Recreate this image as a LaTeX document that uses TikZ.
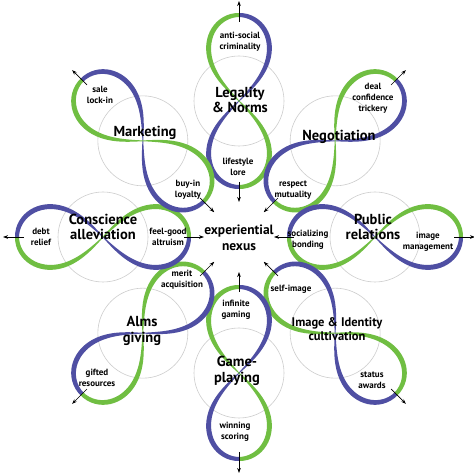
\documentclass[tikz,border=0pt]{standalone}
\usepackage{fontspec}
\setmainfont{PT Sans}
\usetikzlibrary{arrows.meta,calc}
\definecolor{rgreen}{RGB}{112,190,66}
\definecolor{rblue}{RGB}{79,79,163}
\definecolor{ringgrey}{RGB}{205,205,205}
\begin{document}
\begin{tikzpicture}[x=1pt,y=1pt,
  declare function={
    lsq(\ta)=sin(\ta)*sin(\ta);
    lx(\ta)=86*cos(\ta)/(1+lsq(\ta));
    ly(\ta)=86*sin(\ta)*cos(\ta)/(1+lsq(\ta));
    nxr(\ta)=3*lsq(\ta)-1;
    nyr(\ta)=-sin(\ta)*(3-lsq(\ta));
    nn(\ta)=sqrt(nxr(\ta)*nxr(\ta)+nyr(\ta)*nyr(\ta));
    ww(\ta)=0.4+1.6*abs(cos(\ta))+0.8*abs(sin(2*\ta));
    ex(\ta,\sd)=lx(\ta)+\sd*ww(\ta)*nxr(\ta)/nn(\ta);
    ey(\ta,\sd)=ly(\ta)+\sd*ww(\ta)*nyr(\ta)/nn(\ta);
  },
  ring/.style={draw=ringgrey,line width=0.6pt},
  arr/.style={line width=0.7pt,-{Stealth[length=5pt,width=3.6pt]}},
  big/.style={font=\fontsize{14.5}{15.5}\selectfont\bfseries,align=center,inner sep=0pt},
  mid/.style={font=\fontsize{12.5}{14.5}\selectfont\bfseries,align=center,inner sep=0pt},
  small/.style={font=\fontsize{9}{11}\selectfont\bfseries,align=center,inner sep=0pt},
  ctr/.style={font=\fontsize{13.5}{16}\selectfont\bfseries,align=center,inner sep=0pt}
]
\fill[white] (0,0) rectangle (474,474);
\useasboundingbox (0,0) rectangle (474,474);
\coordinate (c) at (239,237);
\foreach \ang/\nm in {90/lg,45/ng,0/pr,-45/im,-90/gp,-135/al,180/cs,135/mk}{
  \coordinate (\nm-ctr) at ($(c)+(\ang:136)$);
  \coordinate (\nm-o1) at ($(c)+(\ang:215)$);
  \coordinate (\nm-o2) at ($(c)+(\ang:236)$);
  \coordinate (\nm-i1) at ($(c)+(\ang:55)$);
  \coordinate (\nm-i2) at ($(c)+(\ang:35)$);
}
% grey circles
\foreach \nm in {lg,ng,pr,im,gp,al,cs,mk}{
  \draw[ring] (\nm-ctr) circle[radius=45];
}
% twisted ribbons
\foreach \ang/\nm in {90/lg,45/ng,0/pr,-45/im,-90/gp,-135/al,180/cs,135/mk}{
  \begin{scope}[shift={(\nm-ctr)},rotate=\ang]
    \fill[rblue] plot[domain=180:360,samples=71] ({ex(\x,1)},{ey(\x,1)})
      -- plot[domain=360:180,samples=71] ({ex(\x,-1)},{ey(\x,-1)}) -- cycle;
    \fill[rgreen] plot[domain=0:180,samples=71] ({ex(\x,1)},{ey(\x,1)})
      -- plot[domain=180:0,samples=71] ({ex(\x,-1)},{ey(\x,-1)}) -- cycle;
  \end{scope}
}
% labels
\node[ctr] (nexus) at (239,236) {experiential\\nexus};
\node[big] (lg) at (240,374) {Legality\\\& Norms};
\node[small] (lgout) at (240,432) {anti-social\\criminality};
\node[small] (lgin) at (238,307) {lifestyle\\lore};
\node[big] (ng) at (339,337) {Negotiation};
\node[small] (ngout) at (373,376) {deal\\confidence\\trickery};
\node[small] (ngin) at (293,284) {respect\\mutuality};
\node[big] (pr) at (373,247) {Public\\relations};
\node[small] (prin) at (308,234) {socializing\\bonding};
\node[small] (prout) at (428,232) {image\\management};
\node[mid] (im) at (337,145) {Image \& Identity\\cultivation};
\node[small] (imin) at (291,185) {self-image};
\node[small] (imout) at (372,94) {status\\awards};
\node[big] (gp) at (237,103) {Game-\\playing};
\node[small] (gpin) at (236,164) {infinite\\gaming};
\node[small] (gpout) at (235,42) {winning\\scoring};
\node[big] (al) at (142,143) {Alms\\giving};
\node[small] (alin) at (182,194) {merit\\acquisition};
\node[small] (alout) at (97,96) {gifted\\resources};
\node[big] (cs) at (103,247) {Conscience\\alleviation};
\node[small] (csout) at (41,237) {debt\\relief};
\node[small] (csin) at (168,237) {feel-good\\altruism};
\node[big] (mk) at (145,341) {Marketing};
\node[small] (mkout) at (100,379) {sale\\lock-in};
\node[small] (mkin) at (188,284) {buy-in\\loyalty};
% arrows
\foreach \nm in {lg,ng,pr,im,gp,al,cs,mk}{
  \draw[arr] (\nm-o1) -- (\nm-o2);
  \draw[arr] (\nm-i1) -- (\nm-i2);
}
\end{tikzpicture}
\end{document}
